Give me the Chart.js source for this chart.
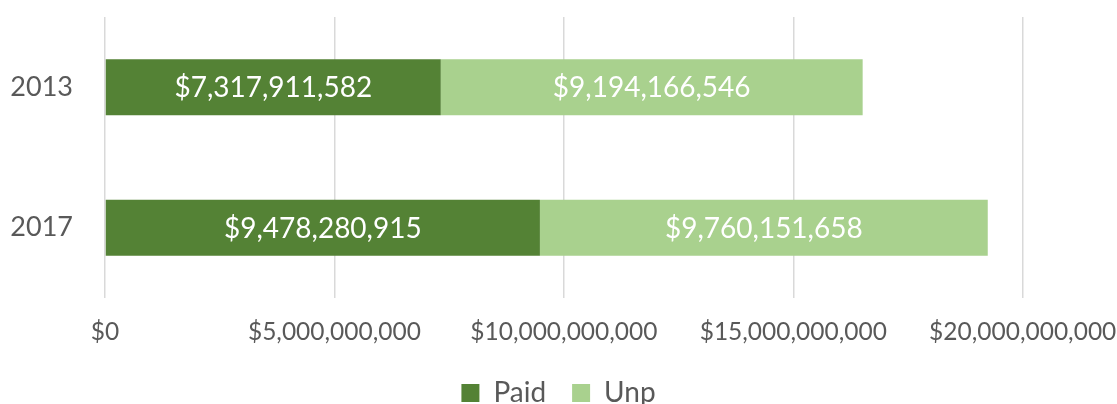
<!DOCTYPE html>
<html>
<head>
<meta charset="utf-8">
<script src="https://cdn.jsdelivr.net/npm/chart.js@4"></script>
<style>
  html, body { margin: 0; padding: 0; background: #fff; }
  #wrap { width: 1117px; height: 404px; }
</style>
</head>
<body>
<div id="wrap"><canvas id="chart" width="1117" height="404"></canvas></div>
<script>
const years = ['2013', '2017'];
const paid = [7317911582, 9478280915];
const unpaid = [9194166546, 9760151658];
const xTicks = [0, 5000000000, 10000000000, 15000000000, 20000000000];

const fmt = v => '$' + Math.round(v).toLocaleString('en-US');

// draws the value in the middle of each bar
const barLabels = {
    id: 'barLabels',
    afterDatasetsDraw(chart) {
        const ctx = chart.ctx;
        ctx.save();
        ctx.font = '28px Lato';
        ctx.fillStyle = '#ffffff';
        ctx.textAlign = 'center';
        ctx.textBaseline = 'middle';
        chart.data.datasets.forEach((ds, i) => {
            chart.getDatasetMeta(i).data.forEach((bar, j) => {
                const x = (bar.x + bar.base) / 2;
                ctx.fillText(fmt(ds.data[j]), x, bar.y + 1);
            });
        });
        ctx.restore();
    }
};

new Chart(document.getElementById('chart'), {
    type: 'bar',
    data: {
        labels: years,
        datasets: [
            { label: 'Paid', data: paid, backgroundColor: '#548235' },
            { label: 'Unp', data: unpaid, backgroundColor: '#a9d18e' }
        ]
    },
    options: {
        indexAxis: 'y',
        responsive: false,
        animation: false,
        layout: { padding: { top: 17, left: 0, right: 0, bottom: -13 } },
        datasets: { bar: { categoryPercentage: 1, barPercentage: 0.4 } },
        scales: {
            x: {
                stacked: true,
                min: 0,
                max: 20000000000,
                afterBuildTicks: axis => { axis.ticks = xTicks.map(v => ({ value: v })); },
                afterFit: axis => {
                    axis.height = 55;
                    axis.paddingLeft = 0;
                    axis.paddingRight = 94.3;
                },
                border: { display: false },
                grid: { color: '#d9d9d9', lineWidth: 1.5, drawTicks: false },
                ticks: {
                    color: '#595959',
                    font: { family: 'Lato', size: 24.5 },
                    padding: 19,
                    maxRotation: 0,
                    autoSkip: false,
                    callback: v => fmt(v)
                }
            },
            y: {
                stacked: true,
                afterFit: axis => {
                    axis.width = 105;
                    axis.paddingTop = 0;
                    axis.paddingBottom = 0;
                },
                border: { display: false },
                grid: { display: false, drawTicks: false },
                ticks: {
                    color: '#595959',
                    font: { family: 'Lato', size: 27 },
                    padding: 32
                }
            }
        },
        plugins: {
            legend: {
                position: 'bottom',
                labels: {
                    color: '#595959',
                    font: { family: 'Lato', size: 28 },
                    boxWidth: 18,
                    boxHeight: 18,
                    padding: 26
                }
            },
            tooltip: { enabled: false }
        }
    },
    plugins: [barLabels]
});
</script>
</body>
</html>
